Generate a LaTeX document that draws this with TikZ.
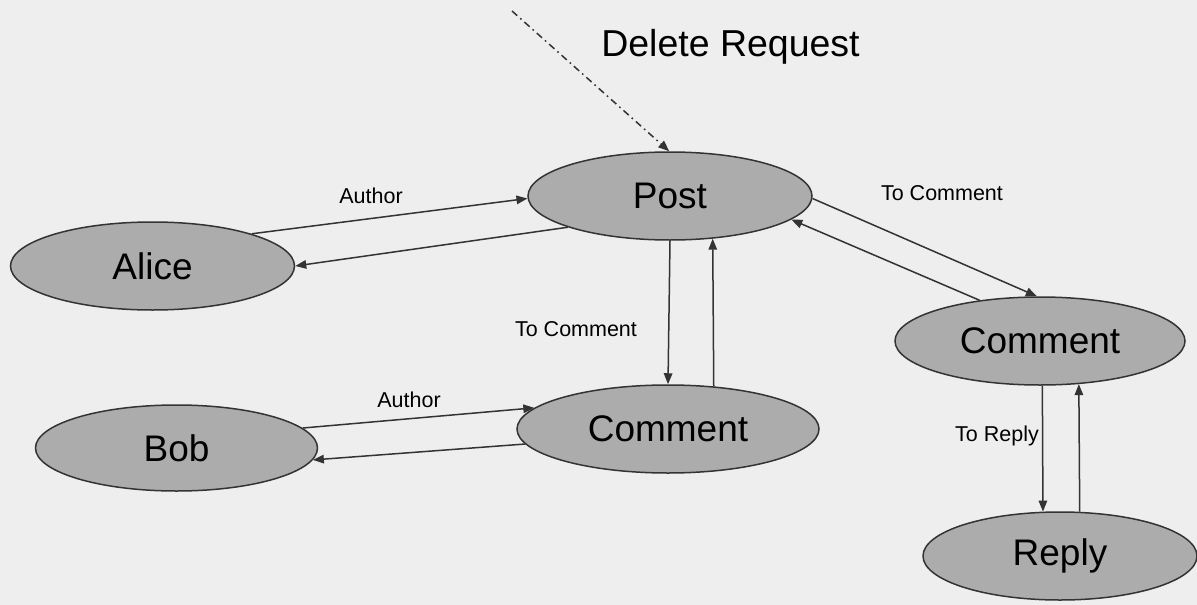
\documentclass[tikz,border=0pt]{standalone}
\usepackage{fontspec}
\setmainfont{Liberation Sans}
\usetikzlibrary{shapes.geometric,arrows.meta}

\definecolor{canvas}{HTML}{EEEEEE}
\definecolor{entityfill}{HTML}{ACACAC}
\definecolor{inkline}{HTML}{333333}

\tikzset{
  entity/.style={ellipse, draw=inkline, line width=1.5pt, fill=entityfill,
    inner sep=0pt, font=\fontsize{37}{40}\selectfont},
  link/.style={draw=inkline, line width=1.5pt,
    -{Triangle[length=11pt,width=8.5pt]}},
  request/.style={link, dash pattern=on 7pt off 4pt on 1.6pt off 4pt},
  tag/.style={inner sep=0pt, font=\fontsize{21.5}{24}\selectfont},
  bigtag/.style={inner sep=0pt, font=\fontsize{37.5}{40}\selectfont}
}

\begin{document}
\begin{tikzpicture}[x=1pt, y=-1pt]
  % canvas
  \fill[canvas] (0,0) rectangle (1197,605);
  \useasboundingbox (0,0) rectangle (1197,605);

  % entities
  \node[entity, minimum width=284pt, minimum height=88pt] (post)   at (670,196)   {Post};
  \node[entity, minimum width=284pt, minimum height=88pt] (alice)  at (152.5,266) {Alice};
  \node[entity, minimum width=282pt, minimum height=86pt] (bob)    at (176.5,448) {Bob};
  \node[entity, minimum width=302pt, minimum height=88pt] (cmid)   at (668,429)   {Comment};
  \node[entity, minimum width=290pt, minimum height=88pt] (cright) at (1040,341)  {Comment};
  \node[entity, minimum width=274pt, minimum height=88pt] (reply)  at (1060,556)  {Reply};

  % incoming delete request
  \coordinate (origin) at (512,11);
  \draw[request] (origin) -- (post.91);
  \node[bigtag] (deltag) at (730.5,47) {Delete Request};

  % Alice <-> Post
  \draw[link] (alice.18) -- (post.181);
  \draw[link] (post.197.7) -- (alice.0);
  \node[tag] (authortop) at (371,196) {Author};

  % Post <-> middle Comment
  \draw[link] (post.270) -- (cmid.90);
  \draw[link] (cmid.43) -- (post.315.7);
  \node[tag] (tocommid) at (576,329) {To Comment};

  % Bob <-> middle Comment
  \draw[link] (bob.9.5) -- (cmid.171);
  \draw[link] (cmid.186.3) -- (bob.355.4);
  \node[tag] (authorbot) at (409,400) {Author};

  % Post <-> right Comment
  \draw[link] (post.359.5) -- (cright.94);
  \draw[link] (cright.146.4) -- (post.349.6);
  \node[tag] (tocomright) at (942,193) {To Comment};

  % right Comment <-> Reply
  \draw[link] (cright.273.9) -- (reply.111.3);
  \draw[link] (reply.66.4) -- (cright.312.6);
  \node[tag] (toreply) at (997,436) {To Reply};
\end{tikzpicture}
\end{document}
